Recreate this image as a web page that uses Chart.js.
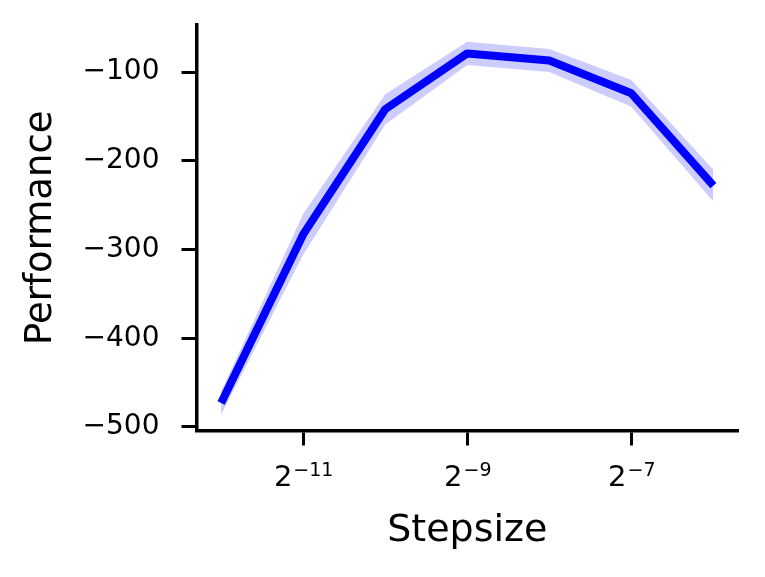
<!DOCTYPE html>
<html>
<head>
<meta charset="utf-8">
<script src="https://cdn.jsdelivr.net/npm/chart.js@4.4.1/dist/chart.umd.min.js"></script>
<style>
  html, body { margin: 0; padding: 0; background: #fff; }
  #wrap { width: 765px; height: 577px; }
</style>
</head>
<body>
<div id="wrap"><canvas id="perfChart" width="765" height="577"></canvas></div>
<script>
// stepsizes as powers of two
const stepExponents = [-12, -11, -10, -9, -8, -7, -6];
const performance = [-473, -283, -142, -79, -87, -124, -228];
const perfError = [13, 23, 17, 13, 13, 15, 18];
const xTickExponents = [-11, -9, -7];
const yTickValues = [-500, -400, -300, -200, -100];

// x tick labels drawn as 2 with a raised exponent, like the reference
const powerLabels = {
  id: 'powerLabels',
  afterDraw(chart) {
    const scale = chart.scales.x;
    const c = chart.ctx;
    const base = chart.chartArea.bottom;
    c.save();
    c.fillStyle = '#000';
    c.textBaseline = 'alphabetic';
    c.textAlign = 'left';
    xTickExponents.forEach(e => {
      const px = scale.getPixelForValue(Math.pow(2, e));
      const expText = '\u2212' + Math.abs(e);
      c.font = '29px "DejaVu Sans"';
      const w1 = c.measureText('2').width;
      c.font = '19px "DejaVu Sans"';
      const w2 = c.measureText(expText).width;
      const x0 = px - (w1 + w2) / 2;
      c.font = '29px "DejaVu Sans"';
      c.fillText('2', x0, base + 55);
      c.font = '19px "DejaVu Sans"';
      c.fillText(expText, x0 + w1 + 1, base + 45);
    });
    c.restore();
  }
};

document.addEventListener('DOMContentLoaded', function () {
  const ctx = document.getElementById('perfChart');
  const mean = stepExponents.map((e, i) => ({ x: Math.pow(2, e), y: performance[i] }));
  const upper = stepExponents.map((e, i) => ({ x: Math.pow(2, e), y: performance[i] + perfError[i] }));
  const lower = stepExponents.map((e, i) => ({ x: Math.pow(2, e), y: performance[i] - perfError[i] }));

  new Chart(ctx, {
    type: 'line',
    data: {
      datasets: [
        {
          label: 'mean',
          data: mean,
          borderColor: '#0000ff',
          borderWidth: 8,
          borderJoinStyle: 'round',
          borderCapStyle: 'butt',
          pointRadius: 0,
          tension: 0,
          fill: false
        },
        {
          label: 'upper',
          data: upper,
          borderWidth: 0,
          borderColor: 'rgba(0,0,0,0)',
          backgroundColor: 'rgba(0, 0, 255, 0.2)',
          pointRadius: 0,
          tension: 0,
          fill: '+1'
        },
        {
          label: 'lower',
          data: lower,
          borderWidth: 0,
          borderColor: 'rgba(0,0,0,0)',
          pointRadius: 0,
          tension: 0,
          fill: false
        }
      ]
    },
    options: {
      responsive: false,
      animation: false,
      layout: {
        autoPadding: false,
        padding: { left: 0, right: 27, top: 25, bottom: 0 }
      },
      plugins: {
        legend: { display: false },
        tooltip: { enabled: false }
      },
      scales: {
        x: {
          type: 'logarithmic',
          min: Math.pow(2, -12.3),
          max: Math.pow(2, -5.7),
          afterBuildTicks: function (scale) {
            scale.ticks = xTickExponents.map(e => ({ value: Math.pow(2, e) }));
          },
          afterFit: function (scale) {
            scale.height = 146.5;
            scale.paddingLeft = 0;
            scale.paddingRight = 0;
          },
          grid: { drawOnChartArea: false, drawTicks: true, tickLength: 15, tickWidth: 3, tickColor: '#000' },
          border: { display: true, color: '#000', width: 3.5 },
          ticks: { display: false },
          title: {
            display: true,
            text: 'Stepsize',
            color: '#000',
            font: { family: 'DejaVu Sans', size: 38 },
            padding: { top: 0, bottom: 23 }
          }
        },
        y: {
          min: -504,
          max: -47,
          afterBuildTicks: function (scale) {
            scale.ticks = yTickValues.map(v => ({ value: v }));
          },
          afterFit: function (scale) {
            scale.width = 196.5;
            scale.paddingTop = 0;
            scale.paddingBottom = 0;
          },
          grid: { drawOnChartArea: false, drawTicks: true, tickLength: 15, tickWidth: 3, tickColor: '#000' },
          border: { display: true, color: '#000', width: 3.5 },
          ticks: {
            padding: 22,
            color: '#000',
            font: { family: 'DejaVu Sans', size: 28 },
            callback: function (value) { return '\u2212' + Math.abs(value); }
          },
          title: {
            display: true,
            text: 'Performance',
            color: '#000',
            font: { family: 'DejaVu Sans', size: 37 },
            padding: { top: 19, bottom: 0 }
          }
        }
      }
    },
    plugins: [powerLabels]
  });
});
</script>
</body>
</html>
